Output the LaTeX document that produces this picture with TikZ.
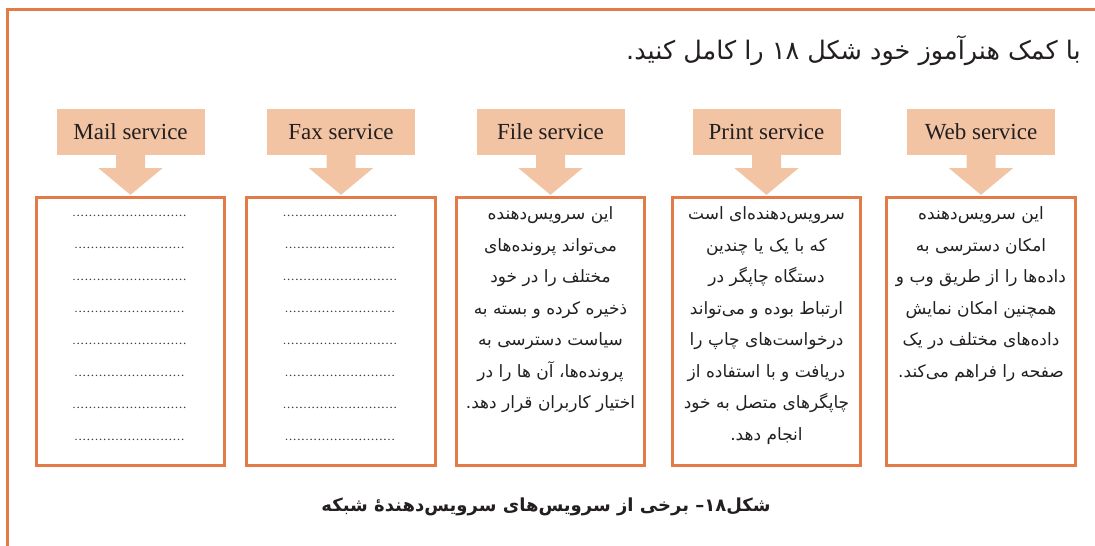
\documentclass[tikz,border=0pt]{standalone}
\usepackage{fontspec}
\setmainfont{Liberation Serif}
\newfontfamily\arabicfont[Script=Arabic]{DejaVu Sans}
\TeXXeTstate=1
\usetikzlibrary{calc}
\definecolor{bord}{RGB}{226,123,71}
\definecolor{hfill}{RGB}{242,196,163}
\definecolor{txt}{RGB}{35,31,32}
\begin{document}
\begin{tikzpicture}[x=1pt,y=-1pt,
  header/.style={fill=hfill, minimum width=148pt, minimum height=46pt, inner sep=0pt, font=\fontsize{23}{27}\selectfont, text=txt},
  panel/.style={draw=bord, line width=2.8pt, minimum width=188.5pt, minimum height=268.5pt, inner sep=0pt},
  ptext/.style={font=\arabicfont\fontsize{17}{20}\selectfont, text=txt, inner sep=0pt, anchor=base},
  blockarrow/.style={fill=hfill},
  dotline/.style={draw=black!75, line width=1.7pt, line cap=round, dash pattern=on 0pt off 4.1pt},
  outerframe/.style={draw=bord, line width=3pt}]
\useasboundingbox (0,0) rectangle (1095,546);
\draw[outerframe] (7.5,546) -- (7.5,9) -- (1095,9);

% title
\node[font=\arabicfont\fontsize{25.5}{30}\selectfont, text=txt, anchor=base east, inner sep=0pt] (title) at (1081,59)
  {\beginR با کمک هنرآموز خود شکل ۱۸ را کامل کنید.\endR};

% panels
\foreach \nm/\cx/\lab in {mail/130.5/Mail service, fax/341/Fax service, file/550.5/File service, print/766.5/Print service, web/981/Web service}{
  \node[panel] (p\nm) at (\cx,331.5) {};
  \node[header] (h\nm) at (\cx,132) {\lab};
  \fill[blockarrow] ($(h\nm.south)+(-14.5,0)$) -- ($(h\nm.south)+(-14.5,13)$) -- ($(h\nm.south)+(-32,13)$)
     -- ($(p\nm.north)+(0,-1)$) -- ($(h\nm.south)+(32,13)$) -- ($(h\nm.south)+(14.5,13)$) -- ($(h\nm.south)+(14.5,0)$) -- cycle;
}

% dotted lines in mail and fax
\foreach \nm in {mail,fax}{
  \foreach \k in {0,2,4,6}{
    \draw[dotline] ($(p\nm.north)+(-56.5,19.5+32*\k)$) -- ($(p\nm.north)+(56.5,19.5+32*\k)$);
  }
  \foreach \k in {1,3,5,7}{
    \draw[dotline] ($(p\nm.north)+(-54.5,19.5+32*\k)$) -- ($(p\nm.north)+(54.5,19.5+32*\k)$);
  }
}

% file text
\foreach \t [count=\i] in {
  {این سرویس^^^^200cدهنده},
  {می^^^^200cتواند پرونده^^^^200cهای},
  {مختلف را در خود},
  {ذخیره کرده و بسته به},
  {سیاست دسترسی به},
  {پرونده^^^^200cها، آن ها را در},
  {اختیار کاربران قرار دهد.}}{
  \node[ptext] (ft\i) at (550.5,219.5+31.5*\i-31.5) {\beginR\t\endR};
}
% print text
\foreach \t [count=\i] in {
  {سرویس^^^^200cدهنده^^^^200cای است},
  {که با یک یا چندین},
  {دستگاه چاپگر در},
  {ارتباط بوده و می^^^^200cتواند},
  {درخواست^^^^200cهای چاپ را},
  {دریافت و با استفاده از},
  {چاپگرهای متصل به خود},
  {انجام دهد.}}{
  \node[ptext] (pt\i) at (766.5,219.5+31.5*\i-31.5) {\beginR\t\endR};
}
% web text
\foreach \t [count=\i] in {
  {این سرویس^^^^200cدهنده},
  {امکان دسترسی به},
  {داده^^^^200cها را از طریق وب و},
  {همچنین امکان نمایش},
  {داده^^^^200cهای مختلف در یک},
  {صفحه را فراهم می^^^^200cکند.}}{
  \node[ptext] (wt\i) at (981,219.5+31.5*\i-31.5) {\beginR\t\endR};
}

% caption
\node[font=\arabicfont\bfseries\fontsize{18}{21}\selectfont, text=txt, anchor=base, inner sep=0pt] (caption) at (546,511)
  {\beginR شکل۱۸– برخی از سرویس^^^^200cهای سرویس^^^^200cدهنده^^^^0654 شبکه\endR};
\end{tikzpicture}
\end{document}
